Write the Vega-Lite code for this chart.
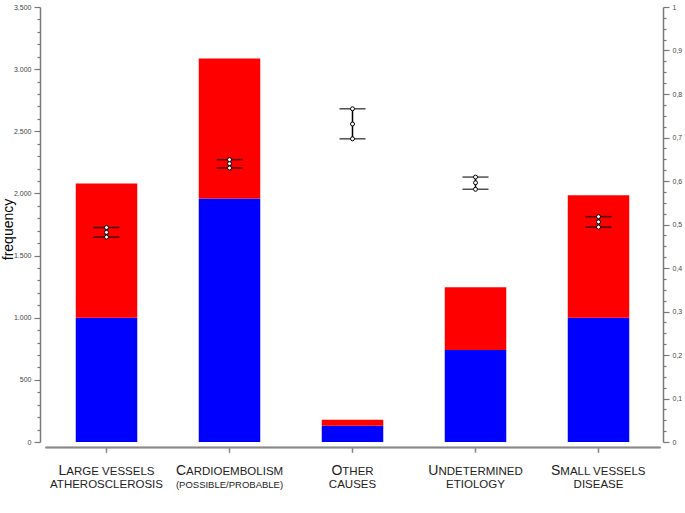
{
  "$schema": "https://vega.github.io/schema/vega-lite/v6.json",
  "width": 615,
  "height": 435,
  "autosize": {"type": "none"},
  "padding": {"left": 45, "top": 7, "right": 25, "bottom": 71},
  "background": "white",
  "config": {
    "locale": {"number": {"decimal": ",", "thousands": ".", "grouping": [3], "currency": ["", ""]}},
    "view": {"stroke": null},
    "font": "Liberation Sans",
    "axis": {"grid": false}
  },
  "datasets": {
    "bars": [
      {"category": "Large vessels atherosclerosis", "segment": "blue", "frequency": 1000},
      {"category": "Large vessels atherosclerosis", "segment": "red", "frequency": 1080},
      {"category": "Cardioembolism (possible/probable)", "segment": "blue", "frequency": 1960},
      {"category": "Cardioembolism (possible/probable)", "segment": "red", "frequency": 1125},
      {"category": "Other causes", "segment": "blue", "frequency": 130},
      {"category": "Other causes", "segment": "red", "frequency": 50},
      {"category": "Undetermined etiology", "segment": "blue", "frequency": 740},
      {"category": "Undetermined etiology", "segment": "red", "frequency": 505},
      {"category": "Small vessels disease", "segment": "blue", "frequency": 1000},
      {"category": "Small vessels disease", "segment": "red", "frequency": 985}
    ],
    "ci": [
      {"category": "Large vessels atherosclerosis", "lower": 0.471, "mean": 0.482, "upper": 0.493},
      {"category": "Cardioembolism (possible/probable)", "lower": 0.63, "mean": 0.64, "upper": 0.649},
      {"category": "Other causes", "lower": 0.697, "mean": 0.731, "upper": 0.766},
      {"category": "Undetermined etiology", "lower": 0.581, "mean": 0.596, "upper": 0.609},
      {"category": "Small vessels disease", "lower": 0.494, "mean": 0.506, "upper": 0.518}
    ]
  },
  "layer": [
    {
      "data": {"name": "bars"},
      "mark": {"type": "bar"},
      "encoding": {
        "x": {
          "field": "category", "type": "nominal", "sort": null,
          "scale": {"domain": ["Large vessels atherosclerosis", "Cardioembolism (possible/probable)", "Other causes", "Undetermined etiology", "Small vessels disease"], "paddingInner": 0.5, "paddingOuter": 0.25},
          "axis": {
            "orient": "bottom", "title": null, "offset": 5,
            "domainColor": "#888", "domainWidth": 1.5, "tickColor": "#888", "tickWidth": 1.2, "tickSize": 5,
            "labelExpr": "{'Large vessels atherosclerosis': 'L', 'Cardioembolism (possible/probable)': 'C', 'Other causes': 'O', 'Undetermined etiology': 'U', 'Small vessels disease': 'S'}[datum.value]",
            "labelFontSize": 14, "labelColor": "#222", "labelAlign": "right", "labelBaseline": "alphabetic", "labelPadding": 22, "labelAngle": 0,
            "labelOffset": {"condition": [
              {"test": "datum.value === 'Large vessels atherosclerosis'", "value": -40.2},
              {"test": "datum.value === 'Cardioembolism (possible/probable)'", "value": -43.5},
              {"test": "datum.value === 'Other causes'", "value": -10.2},
              {"test": "datum.value === 'Undetermined etiology'", "value": -37.1}
            ], "value": -38.2}
          }
        },
        "y": {
          "field": "frequency", "type": "quantitative", "stack": "zero",
          "scale": {"domain": [0, 3500], "nice": false},
          "axis": {
            "orient": "left", "offset": 5,
            "values": [0,100,200,300,400,500,600,700,800,900,1000,1100,1200,1300,1400,1500,1600,1700,1800,1900,2000,2100,2200,2300,2400,2500,2600,2700,2800,2900,3000,3100,3200,3300,3400,3500],
            "labelExpr": "datum.value % 500 === 0 ? format(datum.value, ',') : ''",
            "tickSize": {"condition": {"test": "datum.value % 500 === 0", "value": 6}, "value": 3},
            "labelOverlap": false, "labelFlush": false, "labelFontSize": 7, "labelColor": "#444", "labelPadding": 3,
            "domainColor": "#777", "domainWidth": 1.5, "tickColor": "#777", "tickWidth": 1.2,
            "title": "frequency", "titleFontSize": 14, "titleFontWeight": "normal", "titleColor": "black", "titlePadding": -2, "titleY": 222
          }
        },
        "color": {"field": "segment", "type": "nominal", "scale": {"domain": ["blue", "red"], "range": ["#0000ff", "#ff0000"]}, "legend": null},
        "order": {"field": "segment", "sort": "ascending"}
      }
    },
    {
      "data": {"name": "ci"},
      "mark": {"type": "rule", "color": "black", "strokeWidth": 1.5},
      "encoding": {
        "x": {
          "field": "category", "type": "nominal", "sort": null,
          "axis": {
            "orient": "bottom", "title": null, "offset": 5,
            "domainColor": "#888", "domainWidth": 1.5, "tickColor": "#888", "tickWidth": 1.2, "tickSize": 5,
            "labelExpr": "{'Large vessels atherosclerosis': 'ARGE VESSELS', 'Cardioembolism (possible/probable)': 'ARDIOEMBOLISM', 'Other causes': 'THER', 'Undetermined etiology': 'NDETERMINED', 'Small vessels disease': 'MALL VESSELS'}[datum.value]",
            "labelFontSize": 11.5, "labelColor": "#222", "labelAlign": "left", "labelBaseline": "alphabetic", "labelPadding": 22, "labelAngle": 0,
            "labelOffset": {"condition": [
              {"test": "datum.value === 'Large vessels atherosclerosis'", "value": -40.2},
              {"test": "datum.value === 'Cardioembolism (possible/probable)'", "value": -43.5},
              {"test": "datum.value === 'Other causes'", "value": -10.2},
              {"test": "datum.value === 'Undetermined etiology'", "value": -37.1}
            ], "value": -38.2}
          }
        },
        "y": {
          "field": "lower", "type": "quantitative",
          "scale": {"domain": [0, 1], "nice": false},
          "axis": {
            "orient": "right", "offset": 3,
            "values": [0,0.025,0.05,0.075,0.1,0.125,0.15,0.175,0.2,0.225,0.25,0.275,0.3,0.325,0.35,0.375,0.4,0.425,0.45,0.475,0.5,0.525,0.55,0.575,0.6,0.625,0.65,0.675,0.7,0.725,0.75,0.775,0.8,0.825,0.85,0.875,0.9,0.925,0.95,0.975,1],
            "labelExpr": "abs(datum.value * 10 - round(datum.value * 10)) < 0.001 ? format(datum.value, '~f') : ''",
            "tickSize": {"condition": {"test": "abs(datum.value * 10 - round(datum.value * 10)) < 0.001", "value": 6}, "value": 3},
            "labelOverlap": false, "labelFlush": false, "labelFontSize": 7, "labelColor": "#444", "labelPadding": 3,
            "domainColor": "#777", "domainWidth": 1.5, "tickColor": "#777", "tickWidth": 1.2,
            "title": null
          }
        },
        "y2": {"field": "upper"}
      }
    },
    {
      "data": {"name": "ci"},
      "transform": [{"fold": ["lower", "upper"], "as": ["stat", "value"]}],
      "mark": {"type": "tick", "color": "black", "thickness": 1.5, "size": 26},
      "encoding": {
        "x": {"field": "category", "type": "nominal", "sort": null, "axis": null},
        "y": {"field": "value", "type": "quantitative", "scale": {"domain": [0, 1], "nice": false}, "axis": null}
      }
    },
    {
      "data": {"name": "ci"},
      "transform": [{"fold": ["lower", "mean", "upper"], "as": ["stat", "value"]}],
      "mark": {"type": "point", "filled": true, "fill": "white", "stroke": "black", "strokeWidth": 1, "size": 16, "opacity": 1},
      "encoding": {
        "x": {
          "field": "category", "type": "nominal", "sort": null,
          "axis": {
            "orient": "bottom", "title": null, "offset": 5,
            "domainColor": "#888", "domainWidth": 1.5, "tickColor": "#888", "tickWidth": 1.2, "tickSize": 5,
            "labelExpr": "{'Large vessels atherosclerosis': 'ATHEROSCLEROSIS', 'Cardioembolism (possible/probable)': '(POSSIBLE/PROBABLE)', 'Other causes': 'CAUSES', 'Undetermined etiology': 'ETIOLOGY', 'Small vessels disease': 'DISEASE'}[datum.value]",
            "labelFontSize": {"condition": {"test": "datum.value === 'Cardioembolism (possible/probable)'", "value": 9.5}, "value": 11.5},
            "labelColor": "#222", "labelAlign": "center", "labelBaseline": "alphabetic", "labelPadding": 35, "labelAngle": 0
          }
        },
        "y": {"field": "value", "type": "quantitative", "scale": {"domain": [0, 1], "nice": false}, "axis": null}
      }
    }
  ],
  "resolve": {"scale": {"y": "independent"}, "axis": {"x": "independent"}}
}
